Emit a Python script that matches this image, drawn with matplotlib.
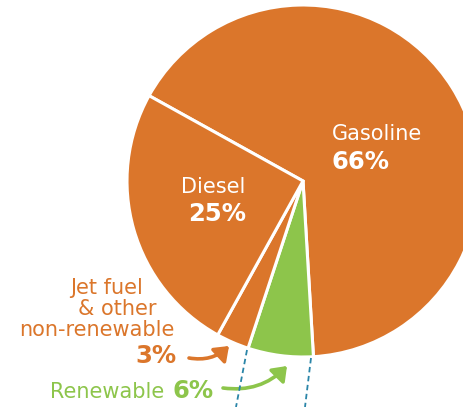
# Transport fuel mix pie chart
import matplotlib.pyplot as plt
from matplotlib.patches import FancyArrowPatch

ORANGE = '#DB762B'
GREEN = '#8DC54B'
BLUE = '#2A85A8'

# shares, clockwise from the gasoline/diesel boundary
fuels = ['Gasoline', 'Renewable', 'Jet fuel & other non-renewable', 'Diesel']
shares = [66, 6, 3, 25]
colors = [ORANGE, GREEN, ORANGE, ORANGE]

W, H = 464, 407
fig = plt.figure(figsize=(W / 100, H / 100), dpi=100)
ax = fig.add_axes([0, 0, 1, 1])

cx, cy, r = 303, H - 181, 176
ax.pie(shares, colors=colors, startangle=151, counterclock=False,
       center=(cx, cy), radius=r, frame=True,
       wedgeprops=dict(edgecolor='white', linewidth=2.2))
ax.set_xlim(0, W)
ax.set_ylim(0, H)
ax.set_aspect('equal')
ax.axis('off')


def Y(y):
    # image pixel row -> data y
    return H - y


# labels inside the pie
ax.text(332, Y(134), 'Gasoline', color='white', fontsize=15, va='center')
ax.text(332, Y(162), f'{shares[0]}%', color='white', fontsize=17.5,
        fontweight='bold', va='center')
ax.text(181, Y(187), 'Diesel', color='white', fontsize=15, va='center')
ax.text(188, Y(214), f'{shares[3]}%', color='white', fontsize=17.5,
        fontweight='bold', va='center')

# labels outside
ax.text(107, Y(288), 'Jet fuel', color=ORANGE, fontsize=15, ha='center', va='center')
ax.text(117, Y(309), '& other', color=ORANGE, fontsize=15, ha='center', va='center')
ax.text(97, Y(330), 'non-renewable', color=ORANGE, fontsize=15, ha='center', va='center')
ax.text(177, Y(356), f'{shares[2]}%', color=ORANGE, fontsize=17.5,
        fontweight='bold', ha='right', va='center')
ax.text(50, Y(392), 'Renewable', color=GREEN, fontsize=15, va='center')
ax.text(173, Y(391), f'{shares[1]}%', color=GREEN, fontsize=17.5,
        fontweight='bold', va='center')

# curved arrows
for (x0, y0), (x1, y1), col in [((189, 358), (229, 346), ORANGE),
                                ((223, 388), (287, 366), GREEN)]:
    ax.add_patch(FancyArrowPatch((x0, Y(y0)), (x1, Y(y1)),
                                 connectionstyle='arc3,rad=0.25',
                                 arrowstyle='-|>,head_length=4,head_width=3',
                                 color=col, lw=2.6, mutation_scale=2,
                                 shrinkA=0, shrinkB=0))

# dashed guides below the renewable wedge
ax.plot([247, 236], [Y(350), Y(407)], color=BLUE, lw=1.3, ls=(0, (3, 2)))
ax.plot([311, 305], [Y(358), Y(407)], color=BLUE, lw=1.3, ls=(0, (3, 2)))

plt.savefig('out.png', dpi=100)
plt.close()
